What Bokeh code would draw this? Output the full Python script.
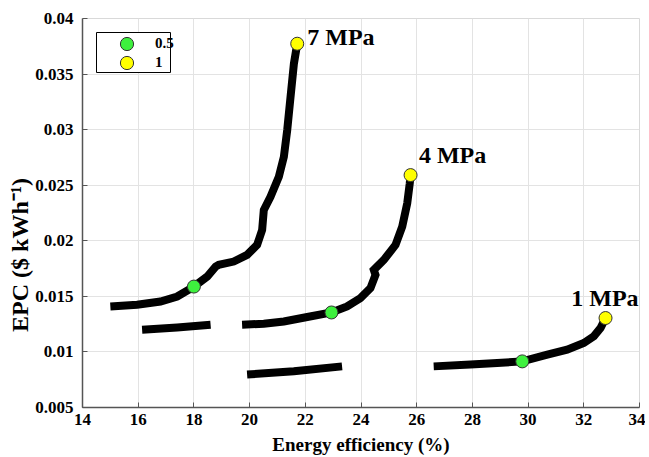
from bokeh.plotting import figure
from bokeh.models import FixedTicker, Range1d, Legend, LegendItem, BoxAnnotation
from bokeh.core.properties import value
from bokeh.embed import file_html
from bokeh.resources import INLINE

# ---- data ----
x_ticks = [14, 16, 18, 20, 22, 24, 26, 28, 30, 32, 34]
y_ticks = [0.005, 0.01, 0.015, 0.02, 0.025, 0.03, 0.035, 0.04]
y_tick_labels = ["0.005", "0.01", "0.015", "0.02", "0.025", "0.03", "0.035", "0.04"]

p7_x = [15.0, 15.96, 16.80, 17.40, 18.00, 18.48, 18.78, 18.89, 19.43, 19.91, 20.27, 20.45,
        20.51, 20.75, 21.05, 21.23, 21.35, 21.47, 21.59, 21.71]
p7_y = [0.01409, 0.01424, 0.01454, 0.01499, 0.01588, 0.01678, 0.01768, 0.01783, 0.01813,
        0.01873, 0.01963, 0.02097, 0.02277, 0.02396, 0.02576, 0.02755, 0.02995, 0.03294,
        0.03593, 0.03773]
p7b_x = [16.14, 17.40, 18.60]
p7b_y = [0.01200, 0.01220, 0.01245]

p4_x = [19.73, 20.51, 21.23, 22.07, 22.94, 23.50, 23.98, 24.34, 24.52, 24.46, 24.82, 25.24,
        25.48, 25.66, 25.75, 25.78]
p4_y = [0.01245, 0.01254, 0.01274, 0.01314, 0.01355, 0.01409, 0.01484, 0.01574, 0.01693,
        0.01738, 0.01828, 0.01963, 0.02127, 0.02337, 0.02516, 0.02591]
p4b_x = [19.91, 21.59, 23.32]
p4b_y = [0.00796, 0.00826, 0.00870]

p1_x = [26.61, 27.93, 28.89, 29.79, 30.69, 31.40, 32.00, 32.36, 32.60, 32.78]
p1_y = [0.00870, 0.00886, 0.00901, 0.00915, 0.00975, 0.01020, 0.01080, 0.01140, 0.01215, 0.01305]

green_x = [18.00, 22.94, 29.79]
green_y = [0.01588, 0.01355, 0.00915]
yellow_x = [21.71, 25.78, 32.78]
yellow_y = [0.03773, 0.02591, 0.01305]

label_text = ["7 MPa", "4 MPa", "1 MPa"]
label_x = [22.07, 26.08, 31.55]
label_y = [0.0383, 0.0277, 0.01484]

legend_labels = ["0.5", "1"]
x_title = "Energy efficiency (%)"
y_title = "EPC ($ kWh\u207b\u00b9)"

FONT = "Liberation Serif"

p = figure(width=645, height=457, output_backend="svg", toolbar_location=None,
           x_range=Range1d(14, 34), y_range=Range1d(0.005, 0.04),
           min_border_left=82, min_border_right=6, min_border_top=18, min_border_bottom=49)

p.outline_line_color = "#d9d9d9"
p.background_fill_color = "white"

for ax in (p.xaxis[0], p.yaxis[0]):
    ax.axis_line_color = "#555555"
    ax.axis_line_width = 1.5
    ax.major_tick_line_color = "#555555"
    ax.major_tick_in = 5
    ax.major_tick_out = 0
    ax.minor_tick_line_color = None
    ax.major_label_text_font = FONT
    ax.major_label_text_font_style = "bold"
    ax.major_label_text_font_size = "17px"
    ax.major_label_text_color = "black"
    ax.axis_label_text_font = FONT
    ax.axis_label_text_font_style = "bold"
    ax.axis_label_text_color = "black"

p.xaxis.axis_label_text_font_size = "19px"
p.yaxis.axis_label_text_font_size = "24px"
p.xaxis.ticker = FixedTicker(ticks=x_ticks)
p.yaxis.ticker = FixedTicker(ticks=y_ticks)
p.yaxis.major_label_overrides = {t: l for t, l in zip(y_ticks, y_tick_labels)}
p.xaxis.axis_label = x_title
# label sits below the axis centre in the original, padded at its top end
p.yaxis.axis_label = y_title + "\u00a0" * 14
p.xaxis.major_label_standoff = 6
p.yaxis.major_label_standoff = 9
p.xaxis.axis_label_standoff = 6
p.yaxis.axis_label_standoff = -1

p.xgrid.ticker = FixedTicker(ticks=x_ticks)
p.ygrid.ticker = FixedTicker(ticks=y_ticks)
p.grid.grid_line_color = "#e3e3e3"
p.grid.grid_line_width = 1

for xs, ys in [(p7_x, p7_y), (p7b_x, p7b_y), (p4_x, p4_y), (p4b_x, p4b_y), (p1_x, p1_y)]:
    p.line(xs, ys, line_color="black", line_width=8, line_cap="butt", line_join="miter")

g = p.scatter(green_x, green_y, size=13, fill_color="#3ef03e", line_color="#333333", line_width=1)
y = p.scatter(yellow_x, yellow_y, size=13, fill_color="#ffff00", line_color="#333333", line_width=1)

p.text(label_x, label_y, text=label_text, text_font=value(FONT), text_font_style="bold",
       text_font_size="24px", text_color="black", text_baseline="alphabetic", text_align="left")

box = BoxAnnotation(left=14, right=88, bottom=335, top=375,
                    left_units="screen", right_units="screen",
                    bottom_units="screen", top_units="screen",
                    fill_color="white", fill_alpha=1, line_color="black", line_width=1, line_alpha=1)
p.add_layout(box)

def make_legend(label, renderer, y_off):
    lg = Legend(items=[LegendItem(label=label, renderers=[renderer])], location=(28, y_off))
    lg.border_line_color = None
    lg.background_fill_alpha = 0
    lg.padding = 0
    lg.margin = 0
    lg.glyph_width = 33
    lg.glyph_height = 33
    lg.label_height = 33
    lg.label_standoff = 12
    lg.label_text_font = FONT
    lg.label_text_font_style = "bold"
    lg.label_text_font_size = "15px"
    lg.label_text_color = "black"
    return lg

p.add_layout(make_legend(legend_labels[0], g, 347), "center")
p.add_layout(make_legend(legend_labels[1], y, 328), "center")

open("out.html", "w").write(file_html(p, INLINE))
